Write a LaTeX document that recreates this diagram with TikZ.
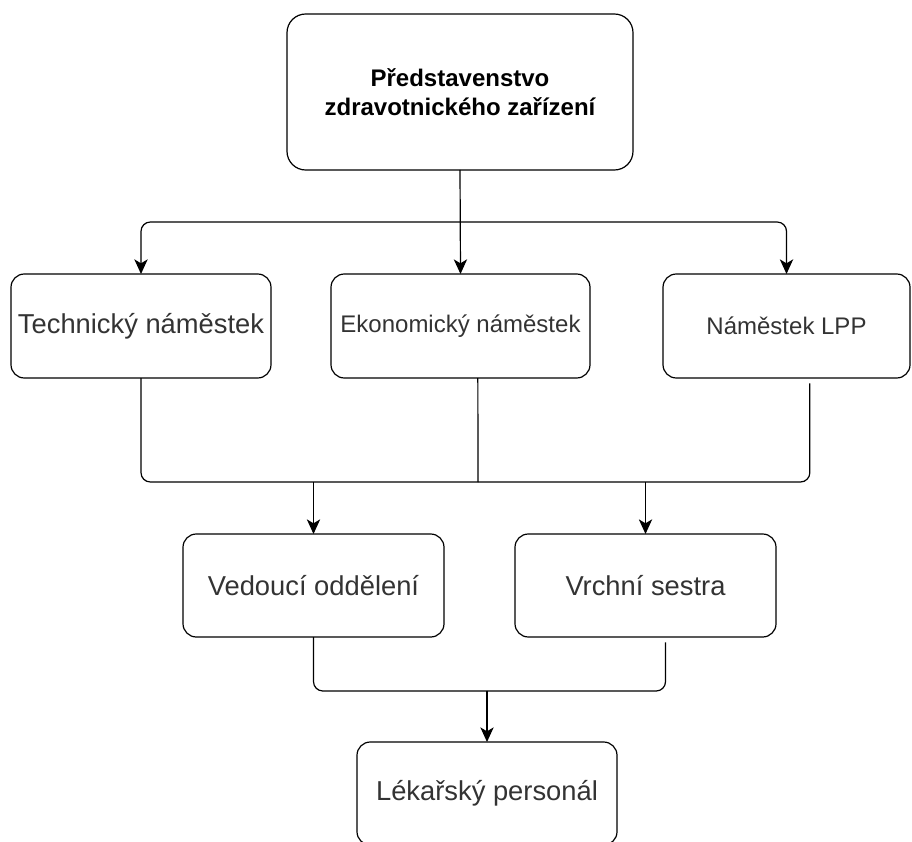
\documentclass[tikz,border=0pt]{standalone}
\usepackage{fontspec}
\setmainfont{Liberation Sans}
\usetikzlibrary{arrows.meta}

\begin{document}
\begin{tikzpicture}[x=0.75pt, y=-0.75pt, line width=0.9pt,
    >={Stealth[length=11pt,width=10pt,inset=3pt]},
    box/.style={draw, rounded corners=10pt, inner sep=0pt, outer sep=0pt,
        minimum width=195pt, minimum height=78pt, text=black!80, align=center},
    bigtext/.style={font=\fontsize{20.5}{24}\selectfont},
    smalltext/.style={font=\fontsize{18}{21}\selectfont},
    link/.style={rounded corners=7pt}]
    \useasboundingbox (0,0) rectangle (912,841);
    % Board
    \node[box, minimum width=259.5pt, minimum height=117pt, rounded corners=14pt, text=black,
        font=\bfseries\fontsize{18}{21.75}\selectfont] (board) at (460,92)
        {Představenstvo\\zdravotnického zařízení};
    % Deputies
    \node[box, bigtext] (tech) at (141,326) {Technický náměstek};
    \node[box, smalltext, minimum width=194.25pt] (econ) at (460.5,326) {Ekonomický náměstek};
    \node[box, smalltext, minimum width=185.25pt] (lpp) at (786.5,326) {Náměstek LPP};
    % Heads of wards
    \node[box, bigtext, minimum width=195.75pt, minimum height=77.25pt] (vedouci) at (313.5,585.5) {Vedoucí oddělení};
    \node[box, bigtext, minimum width=195.75pt, minimum height=77.25pt] (sestra) at (645.5,585.5) {Vrchní sestra};
    % Staff
    \node[box, bigtext, minimum height=77.25pt] (lekar) at (487,793.5) {Lékařský personál};

    % Board to deputies
    \coordinate (fork) at (460,222);
    \draw[->] (board.south) -- (econ.north);
    \draw[->, link] (fork) -| (tech.north);
    \draw[->, link] (fork) -| (lpp.north);
    % Deputies to heads
    \coordinate (bus) at (478,482);
    \draw[link] (tech.south) |- (bus);
    \draw[link] ([xshift=17.5pt,yshift=-4pt]lpp.south) |- (bus);
    \draw ([xshift=13pt]econ.south) -- (bus);
    \draw[->] (vedouci.north |- bus) -- (vedouci.north);
    \draw[->] (sestra.north |- bus) -- (sestra.north);
    % Heads to staff
    \coordinate (bus2) at (487,691);
    \draw[link] (vedouci.south) |- (bus2);
    \draw[link] ([xshift=15pt,yshift=-4pt]sestra.south) |- (bus2);
    \draw[->] (bus2) -- (lekar.north);
\end{tikzpicture}
\end{document}
